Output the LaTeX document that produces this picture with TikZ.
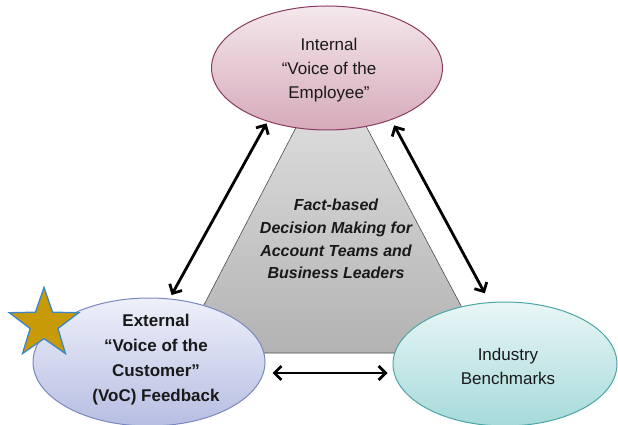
\documentclass[tikz,border=0pt]{standalone}
\usepackage{fontspec}
\setmainfont{Liberation Sans}
\usetikzlibrary{shapes.geometric,arrows.meta}

\definecolor{roseedge}{HTML}{8B3A62}
\definecolor{rosetop}{HTML}{F4E8EC}
\definecolor{rosebot}{HTML}{D6AABA}
\definecolor{blueedge}{HTML}{7A88C0}
\definecolor{bluetop}{HTML}{EEF0FA}
\definecolor{bluebot}{HTML}{B6BEE2}
\definecolor{tealedge}{HTML}{4CA5A5}
\definecolor{tealtop}{HTML}{EAF6F7}
\definecolor{tealbot}{HTML}{A6DADA}
\definecolor{starfill}{HTML}{C99A08}
\definecolor{staredge}{HTML}{3C85C8}

\begin{document}
\begin{tikzpicture}[x=1pt, y=-1pt,
    bubble/.style={ellipse, line width=1pt, inner sep=0pt},
    caption/.style={align=center, text=black!90, font=\fontsize{17}{24}\selectfont},
    link/.style={{Straight Barb[length=7pt,width=14pt]}-{Straight Barb[length=7pt,width=14pt]},
      line width=2.8pt}]
      
      \useasboundingbox (0,0) rectangle (618,425);

      % Shared core behind the three sources
      \path[draw=black!70, line width=0.6pt, top color=black!10, bottom color=black!30]
        (331,60) -- (486,353) -- (179,353) -- cycle;
      \node[align=center, text=black!90, font=\fontsize{16}{22.7}\selectfont\bfseries\itshape]
        (core) at (336,239) {Fact-based\\Decision Making for\\Account Teams and\\Business Leaders};

      % The three sources
      \node[bubble, draw=roseedge, top color=rosetop, bottom color=rosebot,
        minimum width=231pt, minimum height=124pt] (int) at (327,68) {};
      \node[bubble, draw=blueedge, top color=bluetop, bottom color=bluebot,
        minimum width=232pt, minimum height=128pt] (ext) at (149,362) {};
      \node[bubble, draw=tealedge, top color=tealtop, bottom color=tealbot,
        minimum width=224pt, minimum height=124pt] (ind) at (505,364) {};

      \node[caption] (intlabel) at (329,70) {Internal\\``Voice of the\\Employee''};
      \node[caption, font=\fontsize{17}{25}\selectfont\bfseries] (extlabel) at (156,360)
        {External\\``Voice of the\\Customer''\\(VoC) Feedback};
      \node[caption] (indlabel) at (508,366) {Industry\\Benchmarks};

      % Badge on the customer side
      \node[star, star points=5, star point ratio=2.5, minimum size=73pt, inner sep=0pt,
        fill=starfill, draw=staredge, line width=1.3pt] (badge) at (44,324) {};

      % Feedback loops
      \draw[link, shorten <=4pt, shorten >=2pt] (ext.72) -- (int.222);
      \draw[link, shorten <=6pt, shorten >=10pt] (int.321) -- (ind.104);
      \draw[link, shorten <=7pt, shorten >=5pt]
        ([yshift=-11pt]ext.east) -- ([yshift=-11pt]ext.east -| ind.west);
    \end{tikzpicture}
\end{document}
